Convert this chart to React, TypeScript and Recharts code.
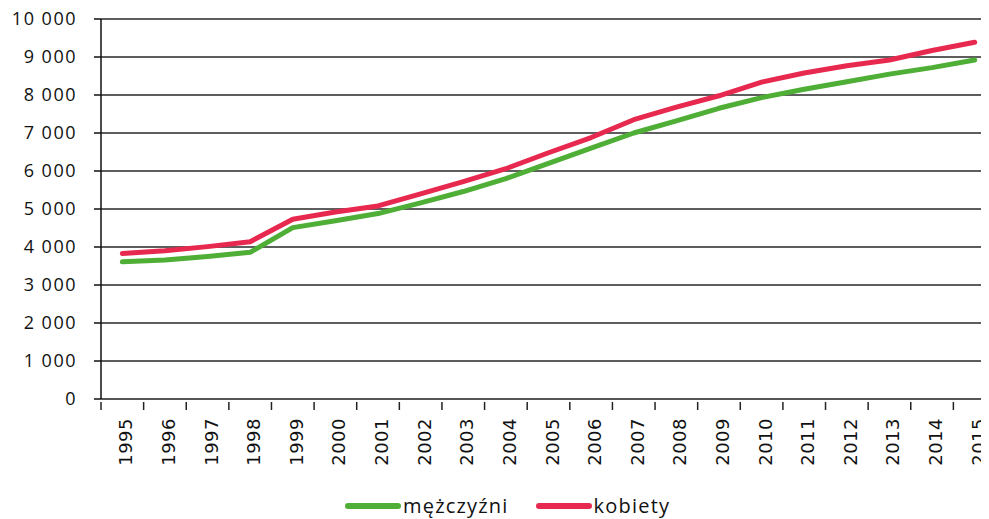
import React from "react";
import { LineChart, Line, XAxis, YAxis, CartesianGrid, Legend } from "recharts";

const years = ["1995","1996","1997","1998","1999","2000","2001","2002","2003","2004","2005","2006","2007","2008","2009","2010","2011","2012","2013","2014","2015"];
const mezczyzni = [3610,3660,3750,3860,4510,4690,4880,5160,5460,5800,6200,6600,7000,7320,7650,7930,8150,8350,8550,8720,8920];
const kobiety = [3830,3900,4010,4140,4730,4920,5080,5400,5720,6060,6480,6880,7350,7680,7980,8340,8580,8770,8920,9170,9390];
const yTicks = [0,1000,2000,3000,4000,5000,6000,7000,8000,9000,10000];

const GREEN = "#4fae36";
const RED = "#e8294f";

const data = years.map((y, i) => ({ year: y, m: mezczyzni[i], k: kobiety[i] }));

const fmt = (v: number) => String(v).replace(/\B(?=(\d{3})+(?!\d))/g, " ");

const BAND = 895 / years.length;

function YearTick(props: any) {
  const { x, y, payload } = props;
  return (
    <g>
      <line x1={x - BAND / 2} x2={x - BAND / 2} y1={y - 5} y2={y + 3} stroke="#222" strokeWidth={1.5} />
      <g transform={`translate(${x},${y + 11}) rotate(-90)`}>
        <text x={0} y={0} dy={10} textAnchor="end" fontFamily="DejaVu Sans" fontSize={18} letterSpacing={0.5} fill="#111">
          {payload.value}
        </text>
      </g>
    </g>
  );
}

function LegendBox() {
  const items = [
    { label: "mężczyźni", color: GREEN },
    { label: "kobiety", color: RED },
  ];
  return (
    <div style={{ display: "flex", alignItems: "center", height: 24, lineHeight: "24px", paddingLeft: 345, fontFamily: "Open Sans", fontSize: 20, letterSpacing: 1.2, color: "#111" }}>
      {items.map((it) => (
        <div key={it.label} style={{ display: "flex", alignItems: "center", marginRight: 27 }}>
          <span style={{ display: "inline-block", width: 56, height: 6, borderRadius: 3, background: it.color, marginRight: 2 }} />
          <span>{it.label}</span>
        </div>
      ))}
    </div>
  );
}

export default function App() {
  return (
    <div style={{ marginLeft: -8, marginTop: -8, width: 989, height: 519, overflow: "hidden", background: "#fff", fontFamily: "Open Sans" }}>
      <LineChart width={1000} height={519} data={data} margin={{ top: 19, right: 4, left: 0, bottom: 0 }}>
        <CartesianGrid vertical={false} stroke="#111" strokeWidth={1.4} strokeOpacity={0.9} />
        <XAxis
          dataKey="year"
          height={96}
          padding={{ left: BAND / 2, right: BAND / 2 }}
          tick={<YearTick />}
          tickLine={false}
          axisLine={{ stroke: "#555", strokeWidth: 1.5 }}
          interval={0}
        />
        <YAxis
          width={101}
          domain={[0, 10000]}
          ticks={yTicks}
          tickFormatter={fmt}
          tickSize={7}
          tickMargin={17}
          tickLine={{ stroke: "#111", strokeWidth: 1.5 }}
          axisLine={{ stroke: "#111", strokeWidth: 1.5 }}
          tick={{ fill: "#111", fontSize: 18, fontFamily: "Open Sans", letterSpacing: 1.5 }}
          interval={0}
        />
        <Legend verticalAlign="bottom" height={24} content={<LegendBox />} wrapperStyle={{ left: 0, top: 494, bottom: "auto", width: 1000, height: 24 }} />
        <Line type="linear" dataKey="m" name="mężczyźni" stroke={GREEN} strokeWidth={5} dot={false} strokeLinejoin="round" strokeLinecap="round" isAnimationActive={false} />
        <Line type="linear" dataKey="k" name="kobiety" stroke={RED} strokeWidth={5} dot={false} strokeLinejoin="round" strokeLinecap="round" isAnimationActive={false} />
      </LineChart>
    </div>
  );
}
